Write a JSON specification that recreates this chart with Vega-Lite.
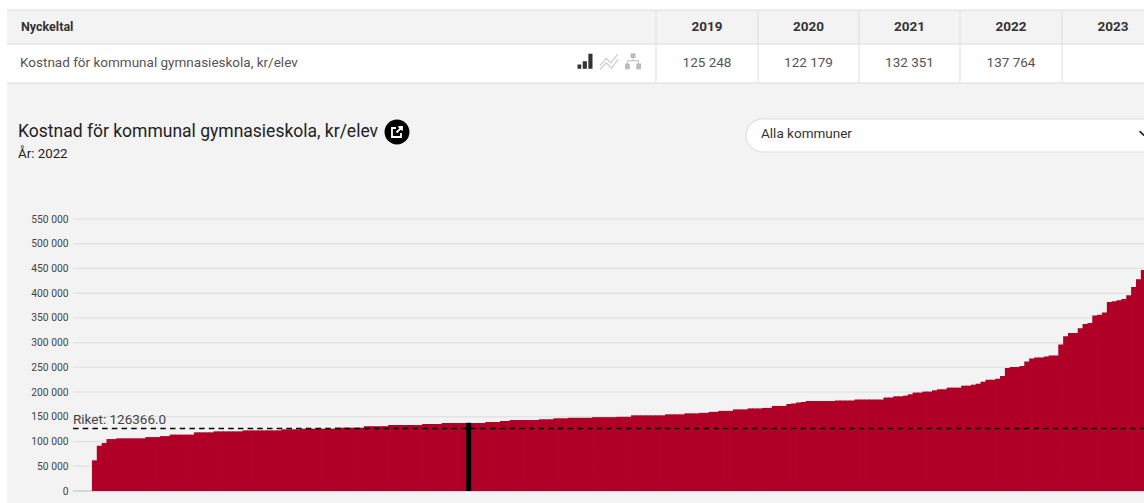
{"$schema":"https://vega.github.io/schema/vega-lite/v6.json","autosize":{"type":"none"},"padding":{"left":7,"top":10,"right":0,"bottom":0},"width":1137,"height":493,"background":"#ffffff","config":{"view":{"fill":"#f3f3f3","stroke":null},"font":"Roboto","axis":{"labelFont":"Roboto"},"scale":{"continuousPadding":0}},
"datasets":{
"kostnad":[62000,91600,97000,105000,105000,106500,106500,106500,106500,106500,106500,109000,109000,109000,111000,111000,114000,114000,114000,114000,114000,118600,118600,118600,118600,120600,120600,120600,120600,120600,120600,122600,122600,122600,122600,122600,122600,122600,122600,124700,124700,124700,124700,126000,126000,126000,126000,126000,126000,126000,128000,128000,128000,128000,128000,128000,131000,131000,131000,131000,131000,133500,133500,133500,133500,133500,133500,133500,135500,135500,135500,135500,137500,137500,137500,137500,137500,137764,137500,137500,137500,139500,139500,139500,141500,141500,143500,143500,143500,143500,143500,143500,145000,145000,145000,147000,147000,147000,148000,148000,148000,148000,148000,149300,149300,149300,149300,149300,150000,150000,150000,153000,153000,153000,153000,153000,153000,153000,155000,155000,155000,155000,157000,157000,157000,158000,158000,160000,160000,162000,162000,162000,165000,165000,165000,167000,167000,167000,168000,168000,172000,172000,172000,176000,177000,179000,180000,182000,182000,182000,182000,182000,182000,183000,183000,183000,183000,185000,185000,185000,185000,185000,185000,189000,189000,191500,191500,192800,195500,199000,199000,201000,201000,203600,205600,205600,209000,209000,209000,213000,213000,215000,217000,221000,225000,225000,227000,232500,248700,250700,250700,252800,262000,268000,270000,270000,272000,274000,274000,296000,313000,319500,319500,329000,337600,339700,355000,356500,361000,382000,383600,385600,388000,396000,412500,428000,447000],
"skala":[{"v":50000},{"v":100000},{"v":150000},{"v":200000},{"v":250000},{"v":300000},{"v":350000},{"v":400000},{"v":450000},{"v":500000},{"v":550000}]
},
"resolve":{"scale":{"x":"independent","y":"independent"}},
"layer":[
{"layer":[
{"data":{"values":[{"rad":1}]},"mark":{"type":"rect","fill":"#ffffff"},"encoding":{"x":{"datum":0,"type":"quantitative","scale":{"domain":[0,1,2,3,4,5,6],"range":[0,649,751,852,953,1055,1157]},"axis":null},"x2":{"datum":6},"y":{"datum":1,"type":"quantitative","scale":{"domain":[0,1,2,3,4],"range":[0,34,73,122,144]},"axis":null},"y2":{"datum":2}}},
{"data":{"values":[{"rad":0},{"rad":1},{"rad":2}]},"mark":{"type":"rule","stroke":"#dddddd","strokeWidth":1},"encoding":{"x":{"datum":0,"type":"quantitative","axis":null},"x2":{"datum":6},"y":{"field":"rad","type":"quantitative","axis":null}}},
{"data":{"values":[{"kolumn":1},{"kolumn":2},{"kolumn":3},{"kolumn":4},{"kolumn":5}]},"mark":{"type":"rule","stroke":"#dddddd","strokeWidth":1},"encoding":{"x":{"field":"kolumn","type":"quantitative","axis":null},"y":{"datum":0,"type":"quantitative","axis":null},"y2":{"datum":2}}},
{"data":{"values":[{"t":"Nyckeltal","kolumn":0,"rad":0.5}]},"mark":{"type":"text","align":"left","baseline":"middle","dx":14,"fontSize":12.5,"fontWeight":"bold","fill":"#333333"},"encoding":{"text":{"field":"t"},"x":{"field":"kolumn","type":"quantitative","axis":null},"y":{"field":"rad","type":"quantitative","axis":null}}},
{"data":{"values":[{"t":"2019","kolumn":1.5,"rad":0.5},{"t":"2020","kolumn":2.5,"rad":0.5},{"t":"2021","kolumn":3.5,"rad":0.5},{"t":"2022","kolumn":4.5,"rad":0.5},{"t":"2023","kolumn":5.5,"rad":0.5}]},"mark":{"type":"text","align":"center","baseline":"middle","fontSize":13.5,"fontWeight":"bold","fill":"#333333"},"encoding":{"text":{"field":"t"},"x":{"field":"kolumn","type":"quantitative","axis":null},"y":{"field":"rad","type":"quantitative","axis":null}}},
{"data":{"values":[{"t":"125 248","kolumn":1.5,"rad":1.49},{"t":"122 179","kolumn":2.5,"rad":1.49},{"t":"132 351","kolumn":3.5,"rad":1.49},{"t":"137 764","kolumn":4.5,"rad":1.49}]},"mark":{"type":"text","align":"center","baseline":"middle","fontSize":13.5,"fill":"#555555"},"encoding":{"text":{"field":"t"},"x":{"field":"kolumn","type":"quantitative","axis":null},"y":{"field":"rad","type":"quantitative","axis":null}}},
{"data":{"values":[{"t":"Kostnad för kommunal gymnasieskola, kr/elev","kolumn":0,"rad":1.49}]},"mark":{"type":"text","align":"left","baseline":"middle","dx":13,"fontSize":13.5,"fill":"#555555"},"encoding":{"text":{"field":"t"},"x":{"field":"kolumn","type":"quantitative","axis":null},"y":{"field":"rad","type":"quantitative","axis":null}}},
{"data":{"values":[{"t":"Kostnad för kommunal gymnasieskola, kr/elev","kolumn":0,"rad":3}]},"mark":{"type":"text","align":"left","baseline":"middle","dx":11,"fontSize":17.5,"fill":"#222222"},"encoding":{"text":{"field":"t"},"x":{"field":"kolumn","type":"quantitative","axis":null},"y":{"field":"rad","type":"quantitative","axis":null}}},
{"data":{"values":[{"t":"År: 2022","kolumn":0,"rad":4}]},"mark":{"type":"text","align":"left","baseline":"middle","dx":11,"fontSize":13.3,"fill":"#222222"},"encoding":{"text":{"field":"t"},"x":{"field":"kolumn","type":"quantitative","axis":null},"y":{"field":"rad","type":"quantitative","axis":null}}},
{"data":{"values":[{"ikon":"stapel","kolumn":0.8906,"rad":1.44}]},"mark":{"type":"point","shape":"M-1,0.45H-0.5V1H-1Z M-0.3,0H0.25V1H-0.3Z M0.45,-1H1V1H0.45Z","size":225,"filled":true,"fill":"#333333","opacity":1,"strokeWidth":0},"encoding":{"x":{"field":"kolumn","type":"quantitative","axis":null},"y":{"field":"rad","type":"quantitative","axis":null}}},
{"data":{"values":[{"ikon":"linje","kolumn":0.9276,"rad":1.44}]},"mark":{"type":"point","shape":"M-1,0.5L-0.3,-0.3L0.2,0.2L1,-0.8 M-1,0.9L-0.3,0.2L0.3,0.8L1,-0.2","size":324,"filled":false,"stroke":"#cccccc","strokeWidth":1.2,"opacity":1},"encoding":{"x":{"field":"kolumn","type":"quantitative","axis":null},"y":{"field":"rad","type":"quantitative","axis":null}}},
{"data":{"values":[{"ikon":"träd","kolumn":0.9646,"rad":1.44}]},"mark":{"type":"point","shape":"M-1,0.3H-0.4V1H-1Z M0.4,0.3H1V1H0.4Z M-0.3,-1H0.3V-0.4H-0.3Z M-0.75,0.3V-0.1H-0.05V-0.4H0.05V-0.1H0.75V0.3H0.65V0H-0.65V0.3Z","size":256,"filled":true,"fill":"#bbbbbb","opacity":1,"strokeWidth":0},"encoding":{"x":{"field":"kolumn","type":"quantitative","axis":null},"y":{"field":"rad","type":"quantitative","axis":null}}},
{"data":{"values":[{"kolumn":0.6009,"rad":3}]},"mark":{"type":"point","shape":"circle","size":620,"filled":true,"fill":"#000000","opacity":1,"strokeWidth":0},"encoding":{"x":{"field":"kolumn","type":"quantitative","axis":null},"y":{"field":"rad","type":"quantitative","axis":null}}},
{"data":{"values":[{"kolumn":0.6009,"rad":3}]},"mark":{"type":"point","shape":"M-0.2,-0.8H-1V1H0.8V0.2 M-0.1,0.1L1,-1 M0.3,-1H1V-0.3","size":100,"filled":false,"stroke":"#ffffff","strokeWidth":1.8,"opacity":1},"encoding":{"x":{"field":"kolumn","type":"quantitative","axis":null},"y":{"field":"rad","type":"quantitative","axis":null}}},
{"data":{"values":[{"rad":3.16}]},"mark":{"type":"rule","stroke":"#dddddd","strokeWidth":34,"strokeCap":"round"},"encoding":{"x":{"datum":2.045,"type":"quantitative","axis":null},"x2":{"datum":6},"y":{"field":"rad","type":"quantitative","axis":null}}},
{"data":{"values":[{"rad":3.16}]},"mark":{"type":"rule","stroke":"#ffffff","strokeWidth":32,"strokeCap":"round"},"encoding":{"x":{"datum":2.045,"type":"quantitative","axis":null},"x2":{"datum":6},"y":{"field":"rad","type":"quantitative","axis":null}}},
{"data":{"values":[{"t":"Alla kommuner","kolumn":2.03,"rad":3.11}]},"mark":{"type":"text","align":"left","baseline":"middle","fontSize":13.5,"fill":"#333333"},"encoding":{"text":{"field":"t"},"x":{"field":"kolumn","type":"quantitative","axis":null},"y":{"field":"rad","type":"quantitative","axis":null}}},
{"data":{"values":[{"kolumn":5.8,"rad":3.05}]},"mark":{"type":"point","shape":"M-1,-0.5L0,0.5L1,-0.5","size":64,"filled":false,"stroke":"#222222","strokeWidth":1.6,"opacity":1},"encoding":{"x":{"field":"kolumn","type":"quantitative","axis":null},"y":{"field":"rad","type":"quantitative","axis":null}}}
]},
{"layer":[
{"data":{"name":"skala"},"mark":{"type":"rule","stroke":"#e4e4e4","strokeWidth":1.5},"encoding":{"x":{"datum":-3.47,"type":"quantitative","scale":{"domain":[0,220],"range":[82.87,1151.2],"nice":false,"zero":false,"padding":0},"axis":null},"x2":{"datum":235},"y":{"field":"v","type":"quantitative","scale":{"domain":[0,550000],"range":[481,209],"nice":false},"title":null,"axis":{"values":[0,50000,100000,150000,200000,250000,300000,350000,400000,450000,500000,550000],"title":null,"domain":false,"ticks":false,"grid":false,"offset":-66,"labelPadding":5,"labelFontSize":10.3,"labelColor":"#444444","labelExpr":"replace(format(datum.value, ','), ',', ' ')"}}}},
{"data":{"values":[{"v":0}]},"mark":{"type":"rule","stroke":"#cccccc","strokeWidth":1.3},"encoding":{"x":{"datum":-3.47,"type":"quantitative"},"x2":{"datum":235},"y":{"field":"v","type":"quantitative"}}},
{"data":{"name":"kostnad"},"transform":[{"window":[{"op":"row_number","as":"rang"}]}],"mark":{"type":"bar","orient":"vertical","size":5.6,"color":"#b00027"},"encoding":{"x":{"field":"rang","type":"quantitative"},"y":{"field":"data","type":"quantitative","stack":null}}},
{"data":{"name":"kostnad"},"transform":[{"window":[{"op":"row_number","as":"rang"}]},{"filter":"datum.data === 137764"}],"mark":{"type":"bar","orient":"vertical","size":5,"color":"#000000"},"encoding":{"x":{"field":"rang","type":"quantitative"},"y":{"field":"data","type":"quantitative","stack":null}}},
{"data":{"values":[{"riket":126366}]},"mark":{"type":"rule","stroke":"#000000","strokeWidth":1.4,"strokeDash":[5.5,4.2]},"encoding":{"x":{"datum":-3.47,"type":"quantitative"},"x2":{"datum":235},"y":{"field":"riket","type":"quantitative"}}},
{"data":{"values":[{"etikett":"Riket: 126366.0","riket":126366}]},"mark":{"type":"text","align":"left","baseline":"alphabetic","dy":-5,"fontSize":13.5,"fill":"#444444"},"encoding":{"text":{"field":"etikett"},"x":{"datum":-3.47,"type":"quantitative"},"y":{"field":"riket","type":"quantitative"}}}
],"resolve":{"axis":{"x":"shared","y":"shared"}}}
]}
